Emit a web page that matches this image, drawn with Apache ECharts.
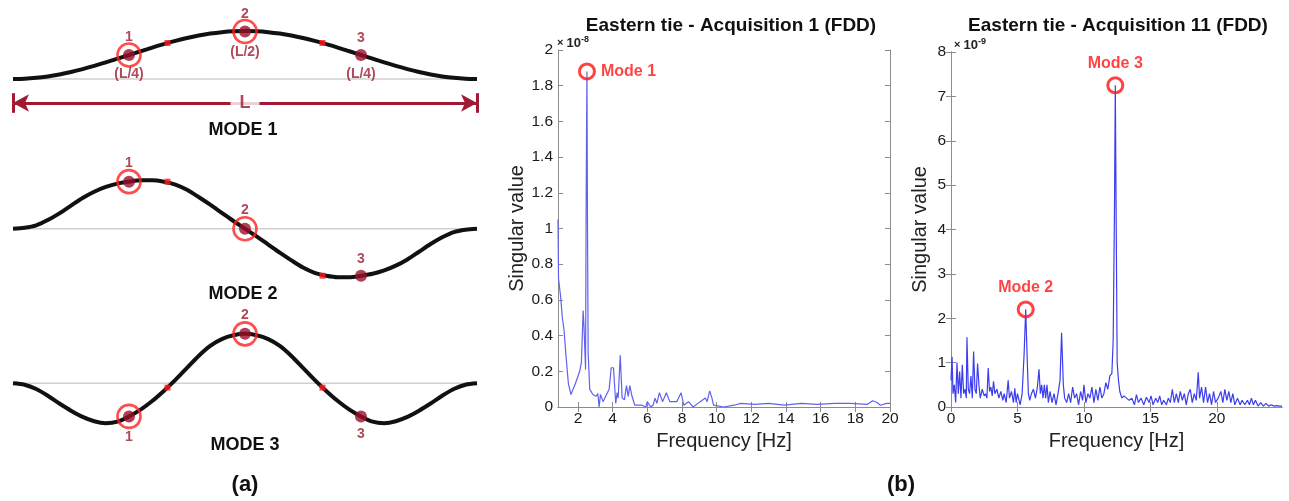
<!DOCTYPE html>
<html><head><meta charset="utf-8">
<script src="https://cdn.jsdelivr.net/npm/echarts@6/dist/echarts.min.js"></script>
<style>html,body{margin:0;padding:0;background:#fff}#c{width:1289px;height:501px}</style>
</head><body><div id="c"></div>
<script>
// ---------- Mode shapes (normalised position along span, normalised displacement) ----------
const shapeT = [0,0.025,0.05,0.075,0.1,0.125,0.15,0.175,0.2,0.225,0.25,0.275,0.3,0.325,0.35,0.375,0.4,0.425,0.45,0.475,0.5,
  0.525,0.55,0.575,0.6,0.625,0.65,0.675,0.7,0.725,0.75,0.775,0.8,0.825,0.85,0.875,0.9,0.925,0.95,0.975,1];
const mode1V = [0,0.006,0.024,0.053,0.093,0.143,0.202,0.268,0.338,0.414,0.49,0.566,0.642,0.712,0.778,0.837,0.887,0.927,0.956,0.974,0.98,
  0.974,0.956,0.927,0.887,0.837,0.778,0.712,0.642,0.566,0.49,0.414,0.338,0.268,0.202,0.143,0.093,0.053,0.024,0.006,0];
const mode2V = [0,0.02,0.07,0.18,0.32,0.48,0.64,0.77,0.87,0.94,0.98,1.01,1.01,0.98,0.92,0.81,0.66,0.5,0.33,0.16,0,
  -0.16,-0.33,-0.5,-0.66,-0.81,-0.92,-0.98,-1.01,-1.01,-0.98,-0.94,-0.87,-0.77,-0.64,-0.48,-0.32,-0.18,-0.07,-0.02,0];
const mode3V = [0,-0.03,-0.12,-0.26,-0.42,-0.57,-0.7,-0.79,-0.83,-0.8,-0.69,-0.55,-0.37,-0.16,0.07,0.32,0.57,0.78,0.92,1.0,1.03,
  1.0,0.92,0.78,0.57,0.32,0.07,-0.16,-0.37,-0.55,-0.69,-0.8,-0.83,-0.79,-0.7,-0.57,-0.42,-0.26,-0.12,-0.03,0];
const sensorT = [0.25, 0.5, 0.75];
const sensorNames = ['1', '2', '3'];
const mode1Sensor = [0.49, 0.97, 0.49];
const mode2Sensor = [0.98, 0, -0.98];
const mode3Sensor = [-0.69, 1.03, -0.69];
const mode1Dims = ['(L/4)', '(L/2)', '(L/4)'];
const midT = [0.333, 0.667];
const mode1Mid = [0.735, 0.735];
const mode2Mid = [0.98, -0.98];
const mode3Mid = [-0.09, -0.09];
const ringedSensors = [0, 1];
const modeTitles = ['MODE 1', 'MODE 2', 'MODE 3'];

// ---------- FDD spectra ----------
// Acquisition 1, singular value (x 1e-8)
const freqA = [0.85,0.88,1.0,1.1,1.2,1.3,1.45,1.52,1.6,1.72,1.85,1.95,2.1,2.2,2.3,2.35,2.44,2.47,2.5,2.52,2.55,2.59,2.68,2.86,3.05,3.15,3.22,3.3,3.45,3.6,3.8,3.92,4.05,4.18,4.26,4.32,4.44,4.55,4.68,4.8,4.9,4.99,5.12,5.28,5.7,5.91,6.0,6.2,6.33,6.45,6.55,6.7,6.88,7.1,7.3,7.7,7.95,8.1,8.38,8.65,9.05,9.15,9.35,9.45,9.6,9.73,9.82,10.4,11.0,11.4,12.2,13.0,13.9,14.9,15.8,16.8,17.7,18.7,19.0,19.25,19.45,19.8,20];
const svA = [1.05,0.72,0.62,0.5,0.43,0.3,0.13,0.12,0.07,0.1,0.13,0.14,0.2,0.25,0.54,0.45,0.21,1.05,1.6,1.88,1.05,0.3,0.1,0.07,0.06,0.075,0.0,0.07,0.03,0.06,0.1,0.22,0.22,0.02,0.08,0.05,0.29,0.05,0.04,0.12,0.06,0.12,0.06,0.01,0.01,0.0,0.03,0.0,0.01,0.05,0.02,0.08,0.03,0.08,0.03,0.03,0.08,0.01,0.03,0.0,0.03,0.02,0.05,0.03,0.09,0.05,0.01,0.0,0.01,0.02,0.015,0.02,0.01,0.02,0.015,0.02,0.02,0.015,0.035,0.025,0.01,0.02,0.02];
// Acquisition 11, singular value (x 1e-9)
const freqB = [0.0,0.08,0.15,0.25,0.35,0.45,0.55,0.65,0.75,0.85,0.95,1.05,1.15,1.2,1.3,1.4,1.5,1.6,1.7,1.8,1.9,2.0,2.1,2.2,2.35,2.5,2.6,2.7,2.8,2.9,3.0,3.1,3.2,3.3,3.45,3.6,3.75,3.9,4.0,4.15,4.3,4.4,4.55,4.7,4.8,4.9,5.0,5.1,5.2,5.35,5.5,5.62,5.72,5.82,5.92,6.05,6.2,6.35,6.5,6.62,6.72,6.82,6.92,7.02,7.12,7.22,7.32,7.45,7.6,7.75,7.9,8.05,8.2,8.32,8.45,8.55,8.7,8.85,9.0,9.15,9.3,9.45,9.6,9.75,9.9,10.0,10.15,10.3,10.45,10.6,10.75,10.9,11.05,11.2,11.35,11.5,11.65,11.8,11.95,12.1,12.2,12.3,12.36,12.42,12.5,12.6,12.7,12.85,13.0,13.2,13.4,13.6,13.8,13.95,14.1,14.3,14.5,14.7,14.9,15.05,15.2,15.4,15.55,15.7,15.85,16.0,16.2,16.35,16.5,16.65,16.8,16.95,17.1,17.25,17.4,17.55,17.7,17.85,18.0,18.15,18.3,18.45,18.6,18.7,18.85,19.0,19.15,19.3,19.45,19.6,19.75,19.9,20.1,20.3,20.45,20.6,20.75,20.9,21.05,21.2,21.35,21.55,21.75,21.9,22.1,22.3,22.45,22.6,22.75,22.9,23.1,23.3,23.5,23.7,23.9,24.1,24.3,24.5,24.7,24.9];
const svB = [0.6,1.13,0.3,0.5,0.1,1.0,0.3,0.8,0.2,0.95,0.3,0.4,0.2,1.57,0.4,0.3,0.7,0.2,1.25,0.4,0.3,0.98,0.5,0.2,0.4,0.25,0.3,0.2,0.88,0.35,0.45,0.25,0.58,0.3,0.4,0.2,0.35,0.15,0.3,0.1,0.6,0.2,0.35,0.1,0.42,0.1,0.3,0.3,0.05,0.3,1.2,2.2,1.2,0.3,0.15,0.3,0.4,0.2,0.45,0.85,0.3,0.5,0.2,0.5,0.2,0.5,0.1,0.35,0.1,0.3,0.05,0.3,0.6,1.67,0.5,0.2,0.1,0.3,0.1,0.45,0.2,0.3,0.05,0.35,0.15,0.5,0.1,0.3,0.2,0.45,0.1,0.4,0.15,0.45,0.2,0.3,0.55,0.4,0.7,0.75,1.5,4.5,7.25,4.5,1.0,0.6,0.35,0.2,0.25,0.2,0.15,0.2,0.05,0.28,0.1,0.2,0.05,0.22,0.1,0.25,0.05,0.2,0.1,0.25,0.05,0.15,0.05,0.2,0.1,0.4,0.1,0.3,0.1,0.35,0.15,0.3,0.05,0.3,0.4,0.1,0.3,0.15,0.78,0.2,0.45,0.1,0.45,0.1,0.3,0.05,0.35,0.1,0.2,0.35,0.1,0.4,0.15,0.35,0.1,0.3,0.05,0.2,0.05,0.15,0.05,0.15,0.05,0.2,0.05,0.15,0.02,0.1,0.02,0.08,0.02,0.05,0.02,0.03,0.02,0.02];
const ticksA_x = [2,4,6,8,10,12,14,16,18,20];
const ticksB_x = [0,5,10,15,20];
const peakA = [[2.52, 1.88, 'Mode 1', 'right']];
const peakB = [[5.62, 2.2, 'Mode 2', 'top'], [12.36, 7.25, 'Mode 3', 'top']];
const titleA = 'Eastern tie - Acquisition 1 (FDD)';
const titleB = 'Eastern tie - Acquisition 11 (FDD)';

// ---------- build ----------
const FONT = 'Arial, "Liberation Sans", sans-serif';
const DARKRED = '#9b1b30';
const RING = '#ff2020';
const BOX = '#8c8c8c';
const zip = (a, b) => a.map((x, i) => [x, b[i]]);

const modeGrids = [
  {left: 13, width: 464, top: 5.5, height: 147},
  {left: 13, width: 464, top: 156.7, height: 144},
  {left: 13, width: 464, top: 311.3, height: 144}
];
const grids = modeGrids.concat([
  {left: 558, top: 50, width: 332, height: 357},
  {left: 951, top: 52, width: 331, height: 355}
]);

const xAxes = [], yAxes = [];
for (let i = 0; i < 3; i++) {
  xAxes.push({type: 'value', gridIndex: i, min: 0, max: 1, show: false});
  yAxes.push({type: 'value', gridIndex: i, min: -1.5, max: 1.5, show: false});
}
function boxAxis(extra) {
  return Object.assign({
    type: 'value',
    axisLine: {show: true, lineStyle: {color: BOX, width: 1}},
    splitLine: {show: false},
    axisTick: {show: true, inside: true, length: 5, lineStyle: {color: BOX}},
    axisLabel: {show: true, color: '#1a1a1a', fontSize: 15.5, fontFamily: FONT, margin: 5}
  }, extra);
}
const nameStyle = {fontSize: 20, fontFamily: FONT, color: '#222'};
xAxes.push(boxAxis({gridIndex: 3, min: 0.85, max: 20, position: 'bottom',
  axisTick: {show: true, inside: true, length: 5, lineStyle: {color: BOX}, customValues: ticksA_x},
  axisLabel: {show: true, color: '#1a1a1a', fontSize: 15.5, fontFamily: FONT, margin: 4, customValues: ticksA_x},
  name: 'Frequency [Hz]', nameLocation: 'middle', nameGap: 23, nameTextStyle: nameStyle}));
xAxes.push(boxAxis({gridIndex: 3, min: 0.85, max: 20, position: 'top',
  axisTick: {show: true, inside: true, length: 5, lineStyle: {color: BOX}, customValues: ticksA_x},
  axisLabel: {show: false}}));
yAxes.push(boxAxis({gridIndex: 3, min: 0, max: 2, interval: 0.2, position: 'left',
  name: 'Singular value', nameLocation: 'middle', nameGap: 29, nameTextStyle: nameStyle}));
yAxes.push(boxAxis({gridIndex: 3, min: 0, max: 2, interval: 0.2, position: 'right', axisLabel: {show: false}}));
xAxes.push(boxAxis({gridIndex: 4, min: 0, max: 24.9, position: 'bottom',
  axisTick: {show: true, inside: true, length: 5, lineStyle: {color: BOX}, customValues: ticksB_x},
  axisLabel: {show: true, color: '#1a1a1a', fontSize: 15.5, fontFamily: FONT, margin: 4, customValues: ticksB_x},
  name: 'Frequency [Hz]', nameLocation: 'middle', nameGap: 23, nameTextStyle: nameStyle}));
xAxes.push(boxAxis({gridIndex: 4, min: 0, max: 24.9, position: 'top',
  axisTick: {show: true, inside: true, length: 5, lineStyle: {color: BOX}, customValues: ticksB_x},
  axisLabel: {show: false}}));
yAxes.push(boxAxis({gridIndex: 4, min: 0, max: 8, interval: 1, position: 'left',
  name: 'Singular value', nameLocation: 'middle', nameGap: 21, nameTextStyle: nameStyle}));
yAxes.push(boxAxis({gridIndex: 4, min: 0, max: 8, interval: 1, position: 'right', axisLabel: {show: false}}));

const series = [];
const modeV = [mode1V, mode2V, mode3V];
const modeSensor = [mode1Sensor, mode2Sensor, mode3Sensor];
const modeMid = [mode1Mid, mode2Mid, mode3Mid];
const sensorLabelPos = [
  [['top', 5], ['top', 4], ['top', 4]],
  [['top', 6], ['top', 6], ['top', 4]],
  [['bottom', 8], ['top', 6], ['bottom', 5]]
];
for (let m = 0; m < 3; m++) {
  series.push({type: 'line', xAxisIndex: m, yAxisIndex: m, data: [[0, 0], [1, 0]],
    symbol: 'none', lineStyle: {color: '#d0d0d0', width: 1.5}, silent: true, z: 1});
  series.push({type: 'line', xAxisIndex: m, yAxisIndex: m, data: zip(shapeT, modeV[m]),
    smooth: 0.3, symbol: 'none', clip: false, lineStyle: {color: '#111', width: 4}, z: 2});
  series.push({type: 'scatter', xAxisIndex: m, yAxisIndex: m, data: zip(midT, modeMid[m]),
    symbol: 'rect', symbolSize: 6, itemStyle: {color: '#ff1c1c'}, z: 3});
  series.push({type: 'scatter', xAxisIndex: m, yAxisIndex: m,
    data: sensorT.map((t, i) => ({
      value: [t, modeSensor[m][i]], name: sensorNames[i],
      label: {show: true, position: sensorLabelPos[m][i][0], distance: sensorLabelPos[m][i][1]}
    })),
    symbol: 'circle', symbolSize: 12, itemStyle: {color: '#9a0f2a'}, z: 4,
    label: {formatter: '{b}', color: DARKRED, fontWeight: 'bold', fontSize: 14, fontFamily: FONT}});
  series.push({type: 'scatter', xAxisIndex: m, yAxisIndex: m,
    data: ringedSensors.map(i => [sensorT[i], modeSensor[m][i]]),
    symbol: 'circle', symbolSize: 23, z: 5,
    itemStyle: {color: 'rgba(0,0,0,0)', borderColor: RING, borderWidth: 2.6}});
}
series.push({type: 'scatter', xAxisIndex: 0, yAxisIndex: 0,
  data: sensorT.map((t, i) => ({value: [t, mode1Sensor[i]], name: mode1Dims[i],
    label: {distance: [6, 8, 6][i]}})),
  symbolSize: 12, itemStyle: {color: 'rgba(0,0,0,0)'}, z: 6,
  label: {show: true, position: 'bottom', formatter: '{b}', color: DARKRED,
    fontWeight: 'bold', fontSize: 14, fontFamily: FONT}});
const spanY = -0.49;
series.push({type: 'line', xAxisIndex: 0, yAxisIndex: 0, data: [], z: 6,
  markLine: {silent: true, animation: false, symbol: ['arrow', 'arrow'], symbolSize: [13, 16],
    lineStyle: {color: '#a01a33', width: 3, type: 'solid'}, label: {show: false},
    data: [[{coord: [0, spanY]}, {coord: [1, spanY]}]]}});
series.push({type: 'line', xAxisIndex: 0, yAxisIndex: 0, data: [], z: 6,
  markLine: {silent: true, animation: false, symbol: ['none', 'none'],
    lineStyle: {color: '#a01a33', width: 3, type: 'solid'}, label: {show: false},
    data: [[{coord: [0, -0.29]}, {coord: [0, -0.69]}], [{coord: [1, -0.29]}, {coord: [1, -0.69]}]]}});
series.push({type: 'scatter', xAxisIndex: 0, yAxisIndex: 0, z: 20, zlevel: 1, symbolSize: 1,
  itemStyle: {color: 'rgba(0,0,0,0)'},
  data: [{value: [0.5, spanY], name: 'L'}],
  label: {show: true, position: 'inside', formatter: '{b}', color: DARKRED, fontWeight: 'bold',
    fontSize: 18, fontFamily: FONT, backgroundColor: '#fff', padding: [1, 9]}});

series.push({type: 'line', xAxisIndex: 3, yAxisIndex: 3, data: zip(freqA, svA), symbol: 'none',
  lineStyle: {color: '#6161f0', width: 1.2}, z: 2});
series.push({type: 'line', xAxisIndex: 5, yAxisIndex: 5, data: zip(freqB, svB), symbol: 'none',
  lineStyle: {color: '#3d3df0', width: 1.2}, z: 2});
function peakSeries(xi, yi, peaks) {
  return {type: 'scatter', xAxisIndex: xi, yAxisIndex: yi, z: 5,
    data: peaks.map(p => ({value: [p[0], p[1]], name: p[2], label: {position: p[3]}})),
    symbol: 'circle', symbolSize: 15,
    itemStyle: {color: 'rgba(0,0,0,0)', borderColor: '#ff1414', borderWidth: 3},
    label: {show: true, formatter: '{b}', distance: 5, color: '#ff1414', fontWeight: 'bold',
      fontSize: 16, fontFamily: FONT}};
}
series.push(peakSeries(3, 3, peakA));
series.push(peakSeries(5, 5, peakB));

function txt(text, cx, cy, size) {
  return {text: text, left: cx, top: cy - size / 2, padding: 0, textAlign: 'center',
    textStyle: {fontSize: size, fontWeight: 'bold', fontFamily: FONT, color: '#111'}};
}
const titles = [
  txt(modeTitles[0], 243, 130, 18), txt(modeTitles[1], 243, 294, 18), txt(modeTitles[2], 245, 445, 18),
  txt('(a)', 245, 485, 22), txt('(b)', 901, 485, 22),
  txt(titleA, 731, 26, 19), txt(titleB, 1118, 26, 19)
];
const expRich = {
  a: {fontSize: 11, fontFamily: FONT, color: '#222', padding: [0, 3, 0, 0]},
  b: {fontSize: 13, fontFamily: FONT, color: '#222'},
  c: {fontSize: 9, fontFamily: FONT, color: '#222', verticalAlign: 'top', lineHeight: 16}
};
titles.push({text: '{a|×}{b|10}{c|-8}', left: 557, top: 35, padding: 0, textStyle: {rich: expRich}});
titles.push({text: '{a|×}{b|10}{c|-9}', left: 954, top: 37, padding: 0, textStyle: {rich: expRich}});

const chart = echarts.init(document.getElementById('c'));
chart.setOption({
  animation: false,
  backgroundColor: '#fff',
  title: titles,
  grid: grids,
  xAxis: xAxes,
  yAxis: yAxes,
  series: series
});
</script>
</body></html>
